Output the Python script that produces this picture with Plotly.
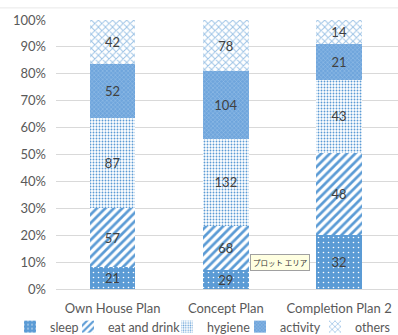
import plotly.graph_objects as go

categories = ["Own House Plan", "Concept Plan", "Completion Plan 2"]
series_names = ["sleep", "eat and drink", "hygiene", "activity", "others"]
sleep = [21, 29, 32]
eat_and_drink = [57, 68, 48]
hygiene = [87, 132, 43]
activity = [52, 104, 21]
others = [42, 78, 14]
tick_vals = [0, 10, 20, 30, 40, 50, 60, 70, 80, 90, 100]
tick_text = [f"{v}%" for v in tick_vals]

values = [sleep, eat_and_drink, hygiene, activity, others]
blue = "#5B9BD5"
patterns = [
    dict(shape=".", bgcolor=blue, fgcolor="#FFFFFF", size=5, solidity=0.08, fillmode="replace"),
    dict(shape="/", bgcolor="#FFFFFF", fgcolor=blue, size=6, solidity=0.45, fillmode="replace"),
    dict(shape=".", bgcolor="#FFFFFF", fgcolor=blue, size=3, solidity=0.3, fillmode="replace"),
    dict(shape="x", bgcolor="#6FA5DC", fgcolor="#9CC2E8", size=3, solidity=0.3, fillmode="replace"),
    dict(shape="x", bgcolor="#FFFFFF", fgcolor="#9DC3E6", size=5, solidity=0.35, fillmode="replace"),
]
# legend text left positions (px) in the window
legend_text_x = [50, 108, 207, 280, 355]

W, H = 398, 335
ML, MR, MT, MB = 56, 0, 20, 46
PW, PH = W - ML - MR, H - MT - MB

fig = go.Figure()
legend_layout = {}
for i, (name, vals, pat) in enumerate(zip(series_names, values, patterns)):
    lg = "legend" if i == 0 else f"legend{i+1}"
    fig.add_trace(go.Bar(
        name=name, x=categories, y=vals, text=vals,
        texttemplate="%{text}", textposition="inside", insidetextanchor="middle",
        textangle=0, constraintext="none",
        textfont=dict(color="#404040", size=13, family="Lato"),
        marker=dict(color=pat["bgcolor"], pattern=pat, line=dict(width=0)),
        width=0.4, legend=lg,
    ))
    legend_layout[lg] = dict(
        x=(legend_text_x[i] - 40 - ML) / PW, xanchor="left",
        y=(H - MB - 327) / PH, yanchor="middle",
        font=dict(size=12.5, color="#595959", family="Lato"),
        bgcolor="rgba(0,0,0,0)", borderwidth=0,
        itemwidth=30,
    )

fig.add_annotation(
    text="プロット エリア", xref="x", yref="y", x=1.48, y=9.7,
    showarrow=False, font=dict(size=7.5, family="Noto Sans CJK JP", color="#333333"),
    bgcolor="#FFFFE1", bordercolor="#A0A0A0", borderwidth=1, borderpad=2,
)

fig.update_layout(
    barmode="stack", barnorm="percent",
    width=W, height=H,
    margin=dict(l=ML, r=MR, t=MT, b=MB, autoexpand=False),
    paper_bgcolor="#FFFFFF", plot_bgcolor="#FFFFFF",
    font=dict(family="Lato", size=13, color="#595959"),
    showlegend=True,
    bargap=0.6,
    **legend_layout,
)
fig.update_yaxes(range=[0, 100], tickvals=tick_vals, ticktext=tick_text,
                 showgrid=True, gridcolor="#D9D9D9", gridwidth=1,
                 zeroline=False, showline=False, ticks="", ticklen=0,
                 ticklabelstandoff=9)
fig.update_xaxes(showgrid=False, showline=True, linecolor="#D9D9D9", ticks="",
                 range=[-0.5, 2.52], ticklabelstandoff=7)
fig.add_shape(type="line", xref="paper", yref="paper", x0=-0.2, x1=1.05, y0=1.045, y1=1.045,
              line=dict(color="#E8E8E8", width=1))
fig.write_html("out.html")
